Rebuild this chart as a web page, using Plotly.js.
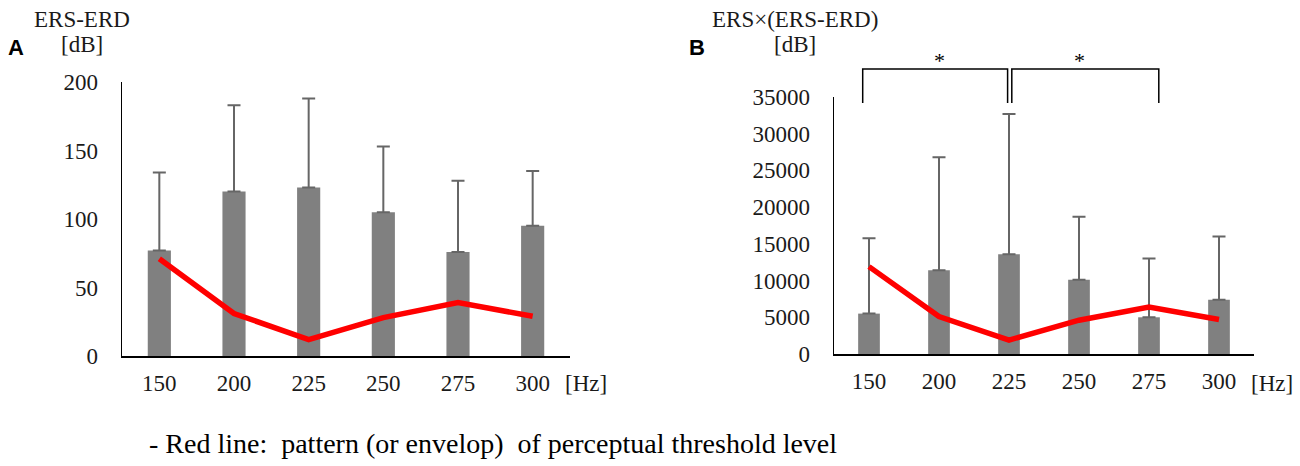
<!DOCTYPE html>
<html>
<head>
<meta charset="utf-8">
<script src="https://cdn.plot.ly/plotly-3.0.1.min.js"></script>
<style>
  body { margin: 0; background: #fff; }
  #graph_panel { width: 1300px; height: 466px; }
</style>
</head>
<body>
<div id="graph_panel"></div>
<script>
// frequencies (x categories), shared by both panels
var freqs = ['150', '200', '225', '250', '275', '300'];

// panel A: ERS-ERD [dB]
var ersErd = [77, 120, 123, 105, 76, 95];
var ersErdSd = [57, 63, 65, 48, 52, 40];
var thresholdA = [71, 31, 12, 28, 39, 29];

// panel B: ERS x (ERS-ERD) [dB]
var ersProd = [5500, 11400, 13600, 10100, 5000, 7400];
var ersProdSd = [10250, 15400, 19100, 8600, 8000, 8600];
var thresholdB = [11900, 5100, 1900, 4600, 6400, 4700];

// significance brackets in panel B (category indexes)
var sigFrom = [0, 2];
var sigTo = [2, 4];
var sigLabel = ['*', '*'];

var serif = '"Liberation Serif", "Times New Roman", serif';
var txtColor = '#1a1a1a';

function zeros(n){
  var out = [];
  for (var i = 0; i < n; i++) out.push(0);
  return out;
}

function barTrace(y, sd, xa, ya){
  return {
    type: 'bar', x: freqs, y: y, xaxis: xa, yaxis: ya,
    width: 0.31,
    marker: { color: '#808080' },
    error_y: { type: 'data', symmetric: false, array: sd, arrayminus: zeros(sd.length),
               color: '#666666', thickness: 2, width: 6.5 },
    showlegend: false
  };
}

function lineTrace(y, xa, ya){
  return {
    type: 'scatter', mode: 'lines', x: freqs, y: y, xaxis: xa, yaxis: ya,
    line: { color: '#ff0000', width: 5.5 },
    showlegend: false
  };
}

function py(pix){ return (466 - pix) / 466; }

function xAxis(domain, anchor){
  return {
    domain: domain, anchor: anchor, type: 'category',
    showline: true, linecolor: '#000', linewidth: 1.5,
    ticks: '', showgrid: false, zeroline: false,
    ticklabelstandoff: 6,
    tickfont: { family: serif, size: 23, color: txtColor },
    fixedrange: true
  };
}

function yAxis(domain, anchor, range, dtick){
  return {
    domain: domain, anchor: anchor, range: range, dtick: dtick,
    tickformat: 'd',
    showline: true, linecolor: '#000', linewidth: 1.5,
    ticks: '', showgrid: false, zeroline: false,
    ticklabelstandoff: 18,
    tickfont: { family: serif, size: 23, color: txtColor },
    fixedrange: true
  };
}

function label(text, x, y, opts){
  var a = {
    text: text, xref: 'paper', yref: 'paper', x: x / 1300, y: py(y),
    xanchor: 'center', yanchor: 'middle', showarrow: false,
    font: { family: serif, size: 23, color: txtColor }
  };
  for (var k in opts) a[k] = opts[k];
  return a;
}

function createGraph(){
  var data = [
    barTrace(ersErd, ersErdSd, 'x', 'y'),
    lineTrace(thresholdA, 'x', 'y'),
    barTrace(ersProd, ersProdSd, 'x2', 'y2'),
    lineTrace(thresholdB, 'x2', 'y2')
  ];

  var sans = { family: '"Liberation Sans", Arial, sans-serif', size: 22, color: '#000' };
  var annotations = [
    label('ERS-ERD', 82, 19),
    label('[dB]', 82, 45),
    label('<b>A</b>', 16, 47, { font: sans }),
    label('[Hz]', 586, 383),
    label('ERS×(ERS-ERD)', 795, 20),
    label('[dB]', 795, 45),
    label('<b>B</b>', 697, 47, { font: sans }),
    label('[Hz]', 1272, 383),
    label('- Red line:  pattern (or envelop)  of perceptual threshold level', 147, 443,
          { xanchor: 'left', font: { family: serif, size: 28, color: '#000' } })
  ];

  var shapes = [];
  var top = py(69), foot = py(103);
  for (var i = 0; i < sigFrom.length; i++){
    // small gaps so the two brackets meeting at 225 stay apart
    var x0 = sigFrom[i] + (i === 0 ? -0.09 : 0.04);
    var x1 = sigTo[i] + (i === 0 ? -0.02 : 0.14);
    shapes.push({ type: 'path', xref: 'x2', yref: 'paper',
      path: 'M ' + x0 + ',' + foot + ' L ' + x0 + ',' + top + ' L ' + x1 + ',' + top + ' L ' + x1 + ',' + foot,
      line: { color: '#000', width: 1.5 } });
    annotations.push({ text: sigLabel[i], xref: 'x2', yref: 'paper',
      x: (sigFrom[i] + sigTo[i]) / 2, y: py(61), showarrow: false,
      xanchor: 'center', yanchor: 'middle',
      font: { family: serif, size: 22, color: '#000' } });
  }

  var layout = {
    width: 1300, height: 466,
    margin: { l: 0, r: 0, t: 0, b: 0 },
    font: { family: serif, size: 23, color: txtColor },
    paper_bgcolor: '#fff', plot_bgcolor: '#fff',
    barmode: 'overlay',
    xaxis: xAxis([122 / 1300, 570 / 1300], 'y'),
    yaxis: yAxis([py(356), py(82)], 'x', [0, 200], 50),
    xaxis2: xAxis([834 / 1300, 1254 / 1300], 'y2'),
    yaxis2: yAxis([py(354), py(97)], 'x2', [0, 35000], 5000),
    annotations: annotations,
    shapes: shapes
  };

  Plotly.newPlot('graph_panel', data, layout, { staticPlot: true });
}

createGraph();
</script>
</body>
</html>
